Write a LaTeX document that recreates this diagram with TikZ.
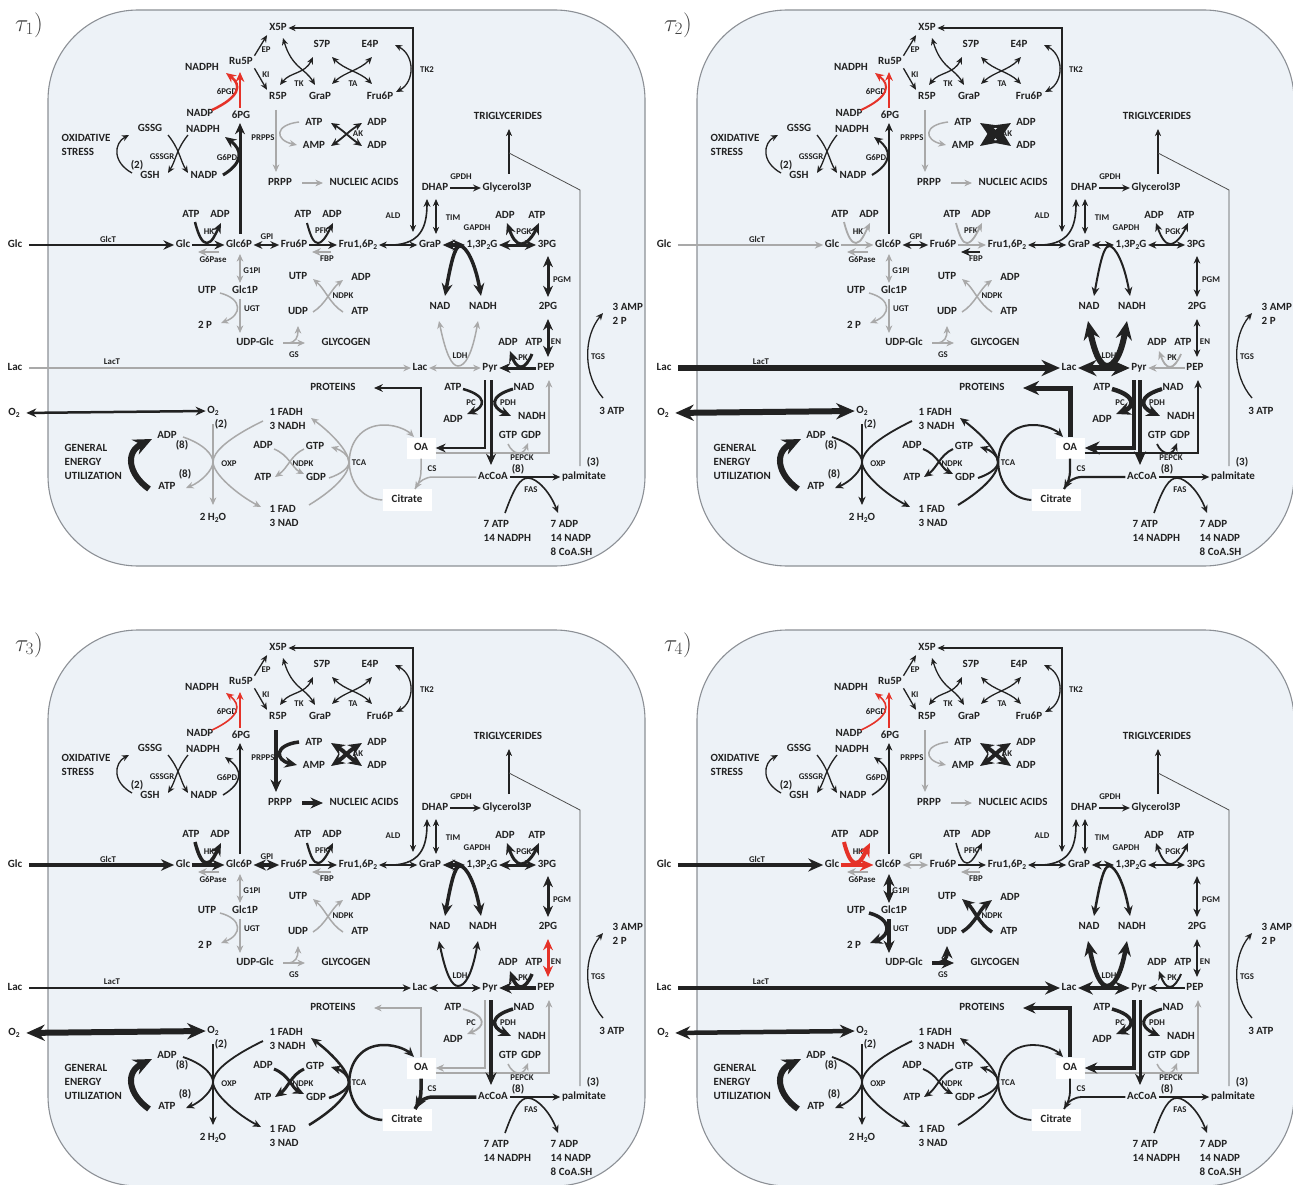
\documentclass[tikz,border=0pt]{standalone}
\usepackage{fontspec}
\newfontfamily\cf{Carlito}
\usetikzlibrary{arrows.meta}
\definecolor{ink}{HTML}{222222}
\definecolor{lgray}{HTML}{A9A9A9}
\definecolor{myred}{HTML}{E53228}
\definecolor{bgc}{HTML}{EDF2F7}
\definecolor{bord}{HTML}{8C9096}
\newcommand\lsub[1]{\raisebox{-0.4ex}{\fontsize{7.5}{7.5}\selectfont #1}}
\tikzset{
 met/.style={font=\cf\bfseries\fontsize{11}{12}\selectfont, text=ink, inner sep=1.5pt, text height=7.2pt, text depth=2pt},
 enz/.style={font=\cf\bfseries\fontsize{8.8}{9}\selectfont, text=ink, inner sep=0.5pt},
 bk/.style={draw=ink, line width=#1},
 gr/.style={draw=lgray, line width=#1},
 rd/.style={draw=myred, line width=#1},
 fx/.style={bk=1.3pt},
 >={Stealth[length=4pt 2.4, width=3.5pt 2.1]},
 sGlcT/.style={fx}, sHK/.style={fx}, sGsixPase/.style={fx}, sGPI/.style={fx}, sPFK/.style={fx},
 sFBP/.style={fx}, sGsixPD/.style={fx}, sPGD/.style={fx}, sPRPPS/.style={fx}, sNA/.style={fx},
 sAK/.style={fx}, sGonePI/.style={fx}, sUGT/.style={fx}, sNDPKa/.style={fx}, sGS/.style={fx},
 sGAPDH/.style={fx}, sPGK/.style={fx}, sPGM/.style={fx}, sEN/.style={fx}, sPK/.style={fx},
 sLDH/.style={fx}, sLacT/.style={fx}, sPC/.style={fx}, sPDH/.style={fx}, sPEPCK/.style={fx},
 sPROT/.style={fx}, sCS/.style={fx}, sTCA/.style={fx}, sNDPKb/.style={fx}, sOXP/.style={fx},
 sOtwo/.style={fx},
}
\newcommand\netw[1]{%
\filldraw[fill=bgc, draw=bord, line width=1.1pt, rounded corners=90pt] (48,10) rectangle (645,566);
\node[font=\fontsize{27}{27}\selectfont, text=ink!85] (tau) at (29,25) {$\tau_{#1})$};
% metabolites
\node[met] (X5P) at (278,28) {X5P};
\node[met] (Ru5P) at (241,62) {Ru5P};
\node[met] (NADPHa) at (202,68) {NADPH};
\node[met] (R5P) at (278,97) {R5P};
\node[met] (GraPa) at (320,97) {GraP};
\node[met] (S7P) at (322,45) {S7P};
\node[met] (E4P) at (370,45) {E4P};
\node[met] (Fru6Pa) at (380,97) {Fru6P};
\node[met] (NADPb) at (200,114) {NADP};
\node[met] (PGsix) at (241,116) {6PG};
\node[met] (GSSG) at (150,129) {GSSG};
\node[met] (NADPHb) at (203,130) {NADPH};
\node[met, anchor=west] (OSa) at (60,139) {OXIDATIVE};
\node[met, anchor=west] (OSb) at (60,153) {STRESS};
\node[met] (twoA) at (137,166) {(2)};
\node[met] (GSH) at (150,176) {GSH};
\node[met] (NADPc) at (204,176) {NADP};
\node[met] (ATPa) at (314,123) {ATP};
\node[met] (AMP) at (314,146) {AMP};
\node[met] (ADPa) at (377,123) {ADP};
\node[met] (ADPb) at (377,146) {ADP};
\node[met] (PRPP) at (280,183) {PRPP};
\node[met] (NUC) at (364,183) {NUCLEIC ACIDS};
\node[met] (TRIG) at (508,117) {TRIGLYCERIDES};
\node[met] (DHAP) at (435,188) {DHAP};
\node[met] (GthreeP) at (507,188) {Glycerol3P};
\node[met] (ATPb) at (191,215) {ATP};
\node[met] (ADPc) at (220,215) {ADP};
\node[met] (GlcO) at (15,245) {Glc};
\node[met] (Glc) at (183,245) {Glc};
\node[met] (GsixP) at (239,245) {Glc6P};
\node[met] (FsixP) at (294,245) {Fru6P};
\node[met] (ATPc) at (303,215) {ATP};
\node[met] (ADPd) at (332,215) {ADP};
\node[met] (Fbis) at (358,245) {Fru1,6P\lsub{2}};
\node[met] (GraP) at (430,245) {GraP};
\node[met] (BPG) at (482,245) {1,3P\lsub{2}G};
\node[met] (PGthree) at (547,245) {3PG};
\node[met] (ADPe) at (505,216) {ADP};
\node[met] (ATPd) at (537,216) {ATP};
\node[met] (UTPa) at (298,277) {UTP};
\node[met] (ADPf) at (361,278) {ADP};
\node[met] (UDP) at (298,312) {UDP};
\node[met] (ATPe) at (360,312) {ATP};
\node[met] (UTPb) at (207,291) {UTP};
\node[met] (GoneP) at (245,291) {Glc1P};
\node[met] (Ptwo) at (205,326) {2 P};
\node[met] (UDPG) at (255,343) {UDP-Glc};
\node[met] (GLY) at (346,343) {GLYCOGEN};
\node[met] (NAD) at (440,307) {NAD};
\node[met] (NADH) at (483,307) {NADH};
\node[met] (PGtwo) at (548,307) {2PG};
\node[met, anchor=west] (AMPthree) at (611,308) {3 AMP};
\node[met, anchor=west] (Ptwob) at (611,322) {2 P};
\node[met] (ADPg) at (508,343) {ADP};
\node[met] (ATPf) at (534,343) {ATP};
\node[met] (LacO) at (15,368) {Lac};
\node[met] (Lac) at (420,368) {Lac};
\node[met] (Pyr) at (490,368) {Pyr};
\node[met] (PEP) at (546,368) {PEP};
\node[met] (PROT) at (333,388) {PROTEINS};
\node[met] (ATPg) at (453,388) {ATP};
\node[met] (NADb) at (524,388) {NAD};
\node[met] (ADPh) at (453,420) {ADP};
\node[met] (NADHb) at (532,417) {NADH};
\node[met] (ATPthree) at (612,412) {3 ATP};
\node[met] (OtwoL) at (14,413) {O\lsub{2}};
\node[met] (Otwo) at (213,411) {O\lsub{2}};
\node[met] (twoB) at (221,425) {(2)};
\node[met, anchor=west] (FADH) at (268,413) {1 FADH};
\node[met, anchor=west] (NADHthree) at (268,427) {3 NADH};
\node[met] (ADPi) at (167,436) {ADP};
\node[met] (eightA) at (182,446) {(8)};
\node[met, anchor=west] (GENa) at (63,449) {GENERAL};
\node[met, anchor=west] (GENb) at (63,463) {ENERGY};
\node[met, anchor=west] (GENc) at (63,477) {UTILIZATION};
\node[met] (eightB) at (185,475) {(8)};
\node[met] (ATPh) at (167,487) {ATP};
\node[met] (ADPj) at (263,446) {ADP};
\node[met] (GTPa) at (315,447) {GTP};
\node[met] (ATPi) at (263,478) {ATP};
\node[met] (GDPa) at (316,478) {GDP};
\node[met, fill=white, minimum width=29pt, minimum height=21pt] (OA) at (421,448) {OA};
\node[met] (GTPb) at (508,436) {GTP};
\node[met] (GDPb) at (531,436) {GDP};
\node[met] (AcCoA) at (493,477) {AcCoA};
\node[met] (palm) at (584,477) {palmitate};
\node[met] (three) at (593,463) {(3)};
\node[met] (eightC) at (518,470) {(8)};
\node[met, fill=white, minimum width=49pt, minimum height=22pt] (Cit) at (407,500) {Citrate};
\node[met] (HtwoO) at (213,518) {2 H\lsub{2}O};
\node[met, anchor=west] (FAD) at (268,510) {1 FAD};
\node[met, anchor=west] (NADthree) at (268,524) {3 NAD};
\node[met, anchor=west] (ATPseven) at (482,525) {7 ATP};
\node[met, anchor=west] (NADPHf) at (482,539) {14 NADPH};
\node[met, anchor=west] (ADPseven) at (549,525) {7 ADP};
\node[met, anchor=west] (NADPf) at (549,539) {14 NADP};
\node[met, anchor=west] (CoA) at (549,553) {8 CoA.SH};
% enzymes
\node[enz] (eEP) at (266,50) {EP};
\node[enz] (eKI) at (266,75) {KI};
\node[enz] (eTK) at (299,84) {TK};
\node[enz] (eTA) at (353,84) {TA};
\node[enz] (eTKtwo) at (427,70) {TK2};
\node[enz] (ePGD) at (227,92) {6PGD};
\node[enz] (eGSSGR) at (162,157) {GSSGR};
\node[enz] (eGPD) at (227,158) {G6PD};
\node[enz] (ePRPPS) at (263,138) {PRPPS};
\node[enz] (eAK) at (358,134) {AK};
\node[enz] (eGPDH) at (461,177) {GPDH};
\node[enz] (eALD) at (393,216) {ALD};
\node[enz] (eTIM) at (453,218) {TIM};
\node[enz] (eGAPDH) at (477,228) {GAPDH};
\node[enz] (ePGK) at (524,232) {PGK};
\node[enz] (eHK) at (209,232) {HK};
\node[enz] (ePFK) at (322,231) {PFK};
\node[enz] (eGlcT) at (108,239) {GlcT};
\node[enz] (eGPI) at (267,237) {GPI};
\node[enz] (eGsixPase) at (213,260) {G6Pase};
\node[enz] (eFBP) at (327,259) {FBP};
\node[enz] (eGonePI) at (252,271) {G1PI};
\node[enz] (eNDPKa) at (343,296) {NDPK};
\node[enz] (eUGT) at (252,309) {UGT};
\node[enz] (eGS) at (294,355) {GS};
\node[enz] (ePGM) at (562,280) {PGM};
\node[enz] (eEN) at (556,342) {EN};
\node[enz] (eLDH) at (460,356) {LDH};
\node[enz] (ePK) at (523,358) {PK};
\node[enz] (eLacT) at (112,362) {LacT};
\node[enz] (eTGS) at (598,357) {TGS};
\node[enz] (ePC) at (471,403) {PC};
\node[enz] (ePDH) at (508,403) {PDH};
\node[enz] (eOXP) at (229,464) {OXP};
\node[enz] (eNDPKb) at (303,464) {NDPK};
\node[enz] (eTCA) at (359,463) {TCA};
\node[enz] (ePEPCK) at (522,458) {PEPCK};
\node[enz] (eCS) at (432,469) {CS};
\node[enz] (eFAS) at (531,490) {FAS};
% fixed reactions
\draw[fx,<->] (X5P.east) -- (413,28) -- (413,232);
\draw[fx,->,shorten >=1pt] (Ru5P.north east) -- (X5P.south west);
\draw[fx,->,shorten >=1pt] (Ru5P.south east) -- (R5P.north west);
\draw[fx,<->] (283,38) .. controls (292,68) and (305,68) .. (315,85);
\draw[fx,<->] (280,85) .. controls (290,72) and (305,74) .. (313,57);
\draw[fx,<->] (332,57) .. controls (345,70) and (360,72) .. (372,84);
\draw[fx,<->] (332,84) .. controls (345,72) and (360,70) .. (372,57);
\draw[fx,<->] (395,45) .. controls (415,55) and (415,82) .. (396,92);
\draw[fx,->] (188,135) .. controls (176,150) and (176,160) .. (168,173);
\draw[fx,->] (168,135) .. controls (180,150) and (180,160) .. (188,173);
\draw[fx,->] (132,173) .. controls (112,162) and (114,143) .. (129,135);
\draw[bk=1.6pt,<->] (Fbis.east) -- (GraP.west);
\draw[bk=1.6pt,->] (394,245) .. controls (420,243) and (427,228) .. (427,199);
\draw[fx,<->] (436,199) -- (436,234);
\draw[bk=1.6pt,->] (DHAP.east) -- (GthreeP.west);
\draw[fx,->] (509,174) -- (509,129);
\draw[draw=ink!80, line width=0.8pt] (509,153) -- (580,190) -- (580,466);
\draw[fx,->] (603,398) .. controls (583,375) and (583,337) .. (603,313);
\draw[bk=1.6pt,->] (AcCoA.east) -- (palm.west);
\draw[bk=1.6pt,->] (505,513) .. controls (514,488) and (520,478) .. (528,478) .. controls (537,478) and (550,492) .. (558,513);
\draw[bk=6pt,->] (149,489) .. controls (128,474) and (125,452) .. (152,439);
% variable reactions
\draw[sGlcT,->,shorten <=5pt] (GlcO.east) -- (Glc.west);
\draw[sHK,->] (Glc.east) -- (GsixP.west);
\draw[sHK,->] (195,222) .. controls (199,238) and (203,243) .. (207,243) .. controls (212,243) and (216,233) .. (221,223);
\draw[sGsixPase,->] (219,252) -- (198,252);
\draw[sGPI,<->] (GsixP.east) -- (FsixP.west);
\draw[sPFK,->] (FsixP.east) -- (Fbis.west);
\draw[sPFK,->] (307,223) .. controls (311,238) and (314,243) .. (318,243) .. controls (323,243) and (328,233) .. (333,223);
\draw[sFBP,->] (331,252) -- (312,252);
\draw[sGsixPD,->] (240,234) -- (240,123);
\draw[sGsixPD,->] (223,175) .. controls (243,163) and (243,150) .. (225,137);
\draw[sPGD,->] (240,108) -- (240,72);
\draw[sPGD,->] (212,110) .. controls (240,97) and (242,85) .. (226,73);
\draw[sPRPPS,->] (276,110) -- (276,172);
\draw[sPRPPS,->] (299,122) .. controls (274,125) and (275,140) .. (297,145);
\draw[sNA,->] (302,183) -- (323,183);
\draw[sAK,<->] (331,123) .. controls (344,131) and (349,137) .. (362,146);
\draw[sAK,<->] (331,146) .. controls (344,137) and (349,131) .. (362,123);
\draw[sGonePI,<->] (240,254) -- (240,283);
\draw[sUGT,->] (240,299) -- (240,333);
\draw[sUGT,->] (220,293) .. controls (243,299) and (242,315) .. (221,323);
\draw[sNDPKa,->] (313,312) .. controls (326,304) and (331,289) .. (343,280);
\draw[sNDPKa,->] (343,312) .. controls (330,304) and (325,289) .. (313,279);
\draw[sGS,->] (283,343) -- (305,343);
\draw[sGS,->] (287,343) .. controls (296,343) and (298,337) .. (298,326);
\draw[sGAPDH,<->] (GraP.east) -- (BPG.west);
\draw[sGAPDH,<->] (445,296) .. controls (451,262) and (455,246) .. (460,246) .. controls (466,246) and (475,262) .. (481,296);
\draw[sPGK,<->] (BPG.east) -- (PGthree.west);
\draw[sPGK,<->] (507,223) .. controls (512,237) and (516,244) .. (521,244) .. controls (527,244) and (533,236) .. (539,223);
\draw[sPGM,<->] (548,256) -- (548,297);
\draw[sEN,<->] (548,319) -- (548,357);
\draw[sPK,->] (PEP.west) -- (Pyr.east);
\draw[sPK,<-] (510,351) .. controls (514,362) and (517,367) .. (521,367) .. controls (525,367) and (529,361) .. (532,354);
\draw[sLDH,<->] (Lac.east) -- (Pyr.west);
\draw[sLDH,<->] (439,321) .. controls (446,355) and (452,366) .. (458,366) .. controls (465,366) and (472,355) .. (478,321);
\draw[sLacT,->,shorten <=5pt] (LacO.east) -- (Lac.west);
\draw[sPEPCK,->] (OA.east |- 0,453) -- (549,453) -- (549,380);
\draw[sPEPCK,->] (508,444) .. controls (513,455) and (523,456) .. (528,443);
\draw[sPC,->] (485,380) -- (485,448) -- (OA.east);
\draw[sPC,->] (463,389) .. controls (488,396) and (485,407) .. (467,414);
\draw[sPDH,->] (491,380) -- (491,465);
\draw[sPDH,->] (513,389) .. controls (489,396) and (491,407) .. (511,416);
\draw[sPROT,->] (OA.north) -- (421,388) -- (374,388);
\draw[sCS] (OA.south) -- (421,470) .. controls (421,478) and (419,483) .. (415,489);
\draw[sCS,->] (AcCoA.west) -- (433,477) .. controls (425,477) and (419,482) .. (415,489);
\draw[sTCA,->] (Cit.west) .. controls (338,497) and (338,425) .. (384,425) .. controls (398,425) and (408,431) .. (414,437);
\draw[sTCA,->] (309,505) .. controls (337,488) and (350,472) .. (349,462) .. controls (348,450) and (330,432) .. (311,418);
\draw[sTCA,->] (329,478) .. controls (341,474) and (349,468) .. (349,462) .. controls (349,455) and (341,450) .. (331,447);
\draw[sNDPKb,->] (274,449) .. controls (289,455) and (292,468) .. (304,474);
\draw[sNDPKb,->] (304,449) .. controls (291,455) and (288,468) .. (275,477);
\draw[sOXP,->] (213,424) -- (213,505);
\draw[sOXP,->] (183,437) .. controls (204,444) and (213,455) .. (213,462) .. controls (213,470) and (201,482) .. (186,488);
\draw[sOXP,->] (263,421) .. controls (228,438) and (213,452) .. (213,462) .. controls (213,474) and (238,495) .. (261,507);
\draw[sOtwo,<->,shorten <=5pt] (OtwoL.east) -- (Otwo.west);
}
\begin{document}
\begin{tikzpicture}[x=1pt,y=-1pt]
\useasboundingbox (0,0) rectangle (1293,1185);
\fill[white] (0,0) rectangle (1293,1185);
\begin{scope}[sGlcT/.style={bk=2.8pt}, sHK/.style={bk=2.5pt}, sGsixPase/.style={gr=2pt}, sGPI/.style={bk=2pt}, sPFK/.style={bk=2pt}, sFBP/.style={gr=2pt}, sGsixPD/.style={bk=3pt}, sPGD/.style={rd=2.5pt}, sPRPPS/.style={gr=1.5pt}, sNA/.style={gr=1.5pt}, sAK/.style={bk=1.8pt}, sGonePI/.style={gr=1.5pt}, sUGT/.style={gr=1.5pt}, sNDPKa/.style={gr=1.5pt}, sGS/.style={gr=1.5pt}, sGAPDH/.style={bk=3.5pt}, sPGK/.style={bk=3pt}, sPGM/.style={bk=3pt}, sEN/.style={bk=3pt}, sPK/.style={bk=3pt}, sLDH/.style={gr=1.5pt}, sLacT/.style={gr=1.5pt}, sPC/.style={bk=2.5pt}, sPDH/.style={bk=3pt}, sPEPCK/.style={gr=1.5pt}, sPROT/.style={bk=2pt}, sCS/.style={gr=1.5pt}, sTCA/.style={gr=1.5pt}, sNDPKb/.style={gr=1.5pt}, sOXP/.style={gr=1.5pt}, sOtwo/.style={bk=2.5pt}]
\netw{1}
\end{scope}
\begin{scope}[shift={(649,0)}, sGlcT/.style={gr=1.8pt}, sHK/.style={gr=1.8pt}, sGsixPase/.style={gr=2pt}, sGPI/.style={bk=2pt}, sPFK/.style={gr=1.8pt}, sFBP/.style={bk=2.2pt}, sGsixPD/.style={bk=2pt}, sPGD/.style={rd=2pt}, sPRPPS/.style={gr=1.5pt}, sNA/.style={gr=1.5pt}, sAK/.style={bk=6pt}, sGonePI/.style={gr=1.5pt}, sUGT/.style={gr=1.5pt}, sNDPKa/.style={gr=1.5pt}, sGS/.style={gr=1.5pt}, sGAPDH/.style={bk=2pt}, sPGK/.style={bk=1.8pt}, sPGM/.style={bk=1.5pt}, sEN/.style={bk=1.5pt}, sPK/.style={gr=1.8pt}, sLDH/.style={bk=6pt}, sLacT/.style={bk=6pt}, sPC/.style={bk=4.5pt}, sPDH/.style={bk=4pt}, sPEPCK/.style={bk=1.8pt}, sPROT/.style={bk=5pt}, sCS/.style={bk=2.2pt}, sTCA/.style={bk=2pt}, sNDPKb/.style={bk=2pt}, sOXP/.style={bk=1.8pt}, sOtwo/.style={bk=6pt}]
\netw{2}
\end{scope}
\begin{scope}[shift={(0,620)}, sGlcT/.style={bk=3.8pt}, sHK/.style={bk=3.5pt}, sGsixPase/.style={gr=2pt}, sGPI/.style={bk=3.5pt}, sPFK/.style={bk=2.2pt}, sFBP/.style={gr=2pt}, sGsixPD/.style={bk=1.5pt}, sPGD/.style={rd=1.6pt}, sPRPPS/.style={bk=3.5pt}, sNA/.style={bk=3.5pt}, sAK/.style={bk=4pt}, sGonePI/.style={gr=1.5pt}, sUGT/.style={gr=1.5pt}, sNDPKa/.style={gr=1.5pt}, sGS/.style={gr=1.5pt}, sGAPDH/.style={bk=3.5pt}, sPGK/.style={bk=3pt}, sPGM/.style={bk=3pt}, sEN/.style={rd=3pt}, sPK/.style={bk=3.5pt}, sLDH/.style={bk=2pt}, sLacT/.style={bk=1.8pt}, sPC/.style={gr=1.8pt}, sPDH/.style={bk=3.5pt}, sPEPCK/.style={gr=1.5pt}, sPROT/.style={gr=1.5pt}, sCS/.style={bk=3.5pt}, sTCA/.style={bk=2.5pt}, sNDPKb/.style={bk=3pt}, sOXP/.style={bk=1.8pt}, sOtwo/.style={bk=6pt}]
\netw{3}
\end{scope}
\begin{scope}[shift={(649,620)}, sGlcT/.style={bk=4.5pt}, sHK/.style={rd=4pt}, sGsixPase/.style={gr=2pt}, sGPI/.style={gr=2pt}, sPFK/.style={bk=1.5pt}, sFBP/.style={gr=2pt}, sGsixPD/.style={bk=1.5pt}, sPGD/.style={rd=1.6pt}, sPRPPS/.style={gr=1.5pt}, sNA/.style={gr=1.5pt}, sAK/.style={bk=4pt}, sGonePI/.style={bk=3.5pt}, sUGT/.style={bk=3.5pt}, sNDPKa/.style={bk=3.5pt}, sGS/.style={bk=3.5pt}, sGAPDH/.style={bk=2.5pt}, sPGK/.style={bk=1.8pt}, sPGM/.style={bk=1.8pt}, sEN/.style={bk=1.8pt}, sPK/.style={bk=2pt}, sLDH/.style={bk=4.5pt}, sLacT/.style={bk=4.5pt}, sPC/.style={bk=3.5pt}, sPDH/.style={bk=3pt}, sPEPCK/.style={gr=1.5pt}, sPROT/.style={bk=3.5pt}, sCS/.style={bk=1.8pt}, sTCA/.style={bk=1.8pt}, sNDPKb/.style={bk=1.8pt}, sOXP/.style={bk=1.8pt}, sOtwo/.style={bk=4.5pt}]
\netw{4}
\end{scope}
\end{tikzpicture}
\end{document}
